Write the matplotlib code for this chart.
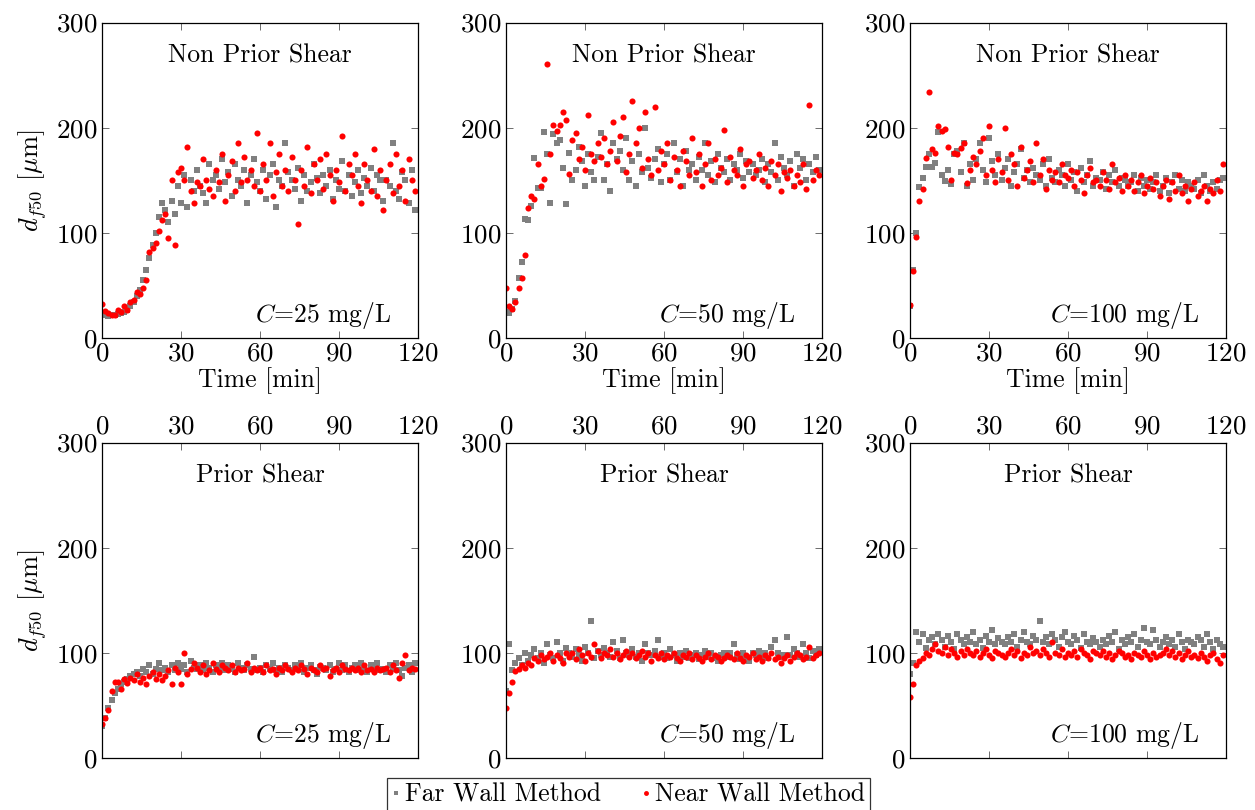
import numpy as np
import matplotlib
matplotlib.use("Agg")
import matplotlib.pyplot as plt

plt.rcParams['font.family'] = ['cmr10', 'DejaVu Serif']
plt.rcParams['mathtext.fontset'] = 'cm'
plt.rcParams['axes.formatter.use_mathtext'] = True

# tiempo de muestreo [min]
t = np.arange(0, 120, 1.2)

# Non prior shear, C=25
far_np25 = [24,22,21,22,22,23,24,25,27,30,
            34,40,46,55,65,76,88,100,115,128,
            122,110,130,118,145,128,155,125,150,140,
            160,145,138,128,165,150,155,142,170,148,
            158,135,165,150,145,160,128,155,170,148,
            140,160,132,155,165,125,150,145,185,158,
            150,142,162,130,155,140,148,165,152,138,
            155,145,160,132,150,142,168,140,155,135,
            148,160,138,152,145,162,140,155,150,130,
            150,145,185,140,132,158,150,128,160,122]
near_np25 = [32,26,24,22,22,27,25,30,27,34,
             36,44,42,48,55,82,86,90,102,112,
             118,95,150,88,158,162,150,182,140,128,
             148,145,170,150,142,135,160,148,175,130,
             155,168,140,185,148,172,150,160,145,195,
             140,165,150,185,135,158,175,145,160,140,
             172,150,108,160,145,182,138,165,150,170,
             142,175,155,130,160,148,192,140,165,155,
             175,145,128,165,150,140,180,135,160,122,
             150,165,138,175,145,160,130,170,150,140]

# Non prior shear, C=50
far_np50 = [25,24,28,35,57,72,113,112,126,171,
            143,143,196,175,128,194,185,188,162,127,
            176,150,160,182,168,145,175,158,150,172,
            195,150,165,140,185,170,178,160,190,150,
            168,145,175,158,200,162,152,170,180,148,
            165,175,150,185,158,170,145,178,160,165,
            150,172,160,185,155,168,148,175,162,158,
            170,150,165,160,175,152,168,158,165,155,
            160,170,148,165,158,185,150,172,162,155,
            168,145,175,162,170,150,165,158,172,160]
near_np50 = [48,30,28,34,48,57,79,124,135,132,
             165,145,151,261,175,203,197,203,215,207,
             156,188,195,170,182,160,212,175,168,185,
             172,190,165,178,205,168,192,210,158,175,
             225,185,200,162,215,170,155,220,160,178,
             165,185,150,172,160,145,178,168,155,190,
             158,175,145,165,185,150,170,155,162,198,
             148,172,160,155,180,145,165,168,152,160,
             175,150,162,145,168,155,165,140,158,152,
             160,145,155,148,165,142,222,150,160,155]

# Non prior shear, C=100
far_np100 = [30,65,100,144,152,163,175,163,166,196,
             155,149,160,146,175,178,158,185,145,165,
             150,170,185,160,148,190,168,155,175,150,
             162,170,145,158,165,180,152,160,148,162,
             155,150,165,145,170,152,148,160,155,145,
             165,150,158,140,162,148,155,168,145,152,
             150,158,142,155,148,160,145,152,150,145,
             148,155,140,152,145,150,142,148,155,140,
             145,152,138,148,155,142,150,140,148,145,
             142,150,138,155,145,140,148,142,150,152]
near_np100 = [31,64,96,130,142,171,234,180,176,202,
              197,199,182,150,176,175,181,185,147,160,
              172,165,178,190,155,202,160,148,170,158,
              200,150,175,165,145,182,152,160,168,148,
              185,155,170,142,160,150,158,148,165,155,
              152,160,145,158,150,138,155,162,148,150,
              145,158,150,142,165,148,152,140,155,145,
              150,140,148,155,138,145,152,142,148,135,
              145,150,132,148,140,155,138,145,130,142,
              148,135,140,145,130,142,138,150,140,165]

# Prior shear, C=25
far_p25 = [30,38,48,55,62,66,70,72,75,78,
           80,82,78,85,82,88,80,85,90,84,
           86,82,88,84,90,85,88,82,92,86,
           85,88,84,90,86,82,88,85,90,84,
           88,85,82,90,86,84,88,85,96,84,
           86,82,88,85,90,84,86,82,88,86,
           84,88,85,90,82,86,88,84,80,87,
           86,84,88,82,85,90,84,88,82,86,
           88,84,90,85,82,88,86,90,84,85,
           82,88,85,90,84,78,86,88,82,90]
near_p25 = [32,38,46,64,72,72,66,75,71,76,
            74,80,72,76,70,78,82,75,80,74,
            78,84,70,86,82,70,100,80,85,90,
            86,82,88,80,84,90,85,82,88,86,
            84,88,82,86,84,85,90,82,86,84,
            86,82,88,84,85,80,86,84,88,85,
            82,86,84,88,85,80,86,84,82,88,
            85,86,78,84,86,82,88,85,84,86,
            84,86,82,88,84,85,82,86,84,85,
            86,82,88,84,76,90,98,84,86,85]

# Prior shear, C=50
far_p50 = [64,108,84,90,95,88,100,92,98,104,
           95,100,90,108,98,95,110,100,92,105,
           100,96,104,98,92,106,100,130,95,102,
           98,105,100,96,110,102,95,112,100,98,
           104,96,100,92,108,100,98,102,112,96,
           100,95,104,98,92,100,96,102,95,98,
           100,94,98,102,96,100,95,92,98,100,
           96,100,108,98,94,100,96,92,100,98,
           102,96,100,95,106,112,100,96,98,115,
           98,104,100,96,108,100,95,102,98,104]
near_p50 = [48,62,72,83,85,88,86,90,88,95,
            92,98,94,96,100,92,98,95,90,100,
            96,100,94,104,98,92,100,96,108,102,
            95,100,98,104,96,100,94,98,102,96,
            100,95,98,102,96,100,92,98,95,100,
            94,98,96,100,95,92,98,96,100,94,
            98,95,92,96,100,94,98,96,92,95,
            98,96,94,100,95,92,98,96,100,94,
            96,92,98,95,100,94,96,90,95,98,
            92,96,100,98,94,96,106,95,98,100]

# Prior shear, C=100
far_p100 = [80,90,120,110,118,105,112,115,108,118,
            112,106,116,110,104,118,112,108,115,110,
            120,108,112,105,116,110,122,108,114,110,
            108,115,110,118,106,112,120,110,108,116,
            112,130,110,115,108,118,112,106,115,120,
            110,108,116,112,105,118,110,108,114,110,
            106,112,108,116,110,120,104,112,108,115,
            110,118,106,112,124,110,108,122,112,106,
            110,115,108,112,106,118,110,104,112,110,
            108,115,112,106,118,110,104,112,108,106]
near_p100 = [58,70,88,92,95,100,98,104,108,102,
             100,106,98,104,100,96,102,98,104,100,
             98,102,96,100,104,98,95,102,100,98,
             96,100,104,98,102,95,100,98,106,100,
             102,98,104,100,96,110,100,98,104,96,
             100,98,102,96,104,100,98,94,102,100,
             98,102,96,100,94,98,102,100,96,98,
             94,100,98,96,102,98,94,100,96,98,
             100,104,98,102,96,100,94,98,102,96,
             98,95,100,96,92,98,100,94,90,98]

far = [[far_np25, far_np50, far_np100], [far_p25, far_p50, far_p100]]
near = [[near_np25, near_np50, near_np100], [near_p25, near_p50, near_p100]]
titulos = ["Non Prior Shear", "Prior Shear"]
concs = ["25", "50", "100"]

fig = plt.figure(figsize=(12.55, 8.1), dpi=100)
lefts = [0.0813, 0.4032, 0.7251]
bottoms = [0.5827, 0.0642]
w = 0.2518
h = 0.3895

for i in range(2):
    for j in range(3):
        ax = fig.add_axes([lefts[j], bottoms[i], w, h])
        l1, = ax.plot(t, far[i][j], ls='none', marker='s', ms=4.2, color='#808080', mew=0)
        l2, = ax.plot(t, near[i][j], ls='none', marker='o', ms=4.4, color='red', mew=0)
        ax.set_xlim(0, 120)
        ax.set_ylim(0, 300)
        ax.set_xticks([0, 30, 60, 90, 120])
        ax.set_yticks([0, 100, 200, 300])
        ax.tick_params(direction='in', top=True, right=True, labelsize=19.5,
                       length=5, width=0.6, color='#555555', pad=3)
        if i == 1:
            ax.tick_params(labeltop=True, labelbottom=False)
        else:
            ax.set_xlabel("Time [min]", fontsize=18.5, labelpad=1)
        if j == 0:
            ax.set_ylabel(r"$d_{f50}$ [$\mu$m]", fontsize=19)
            ax.yaxis.set_label_coords(-0.168, 0.5)
        for s in ax.spines.values():
            s.set_linewidth(0.9)
        ax.text(0.5, 0.895, titulos[i], transform=ax.transAxes, ha='center',
                va='center', fontsize=18.5)
        ax.text(0.915, 0.07, r"$C$=" + concs[j] + " mg/L", transform=ax.transAxes,
                ha='right', va='center', fontsize=18.5)

leg = fig.legend([l1, l2], ["Far Wall Method", "Near Wall Method"], loc='upper center',
                 bbox_to_anchor=(0.501, 0.0395), ncol=2, fontsize=18.5, frameon=True,
                 fancybox=False, edgecolor='black', handlelength=0.3, handletextpad=0.2,
                 columnspacing=1.6, borderpad=0.2, borderaxespad=0, markerscale=0.8)
leg.get_frame().set_linewidth(0.9)

fig.savefig("out.png", dpi=100)
